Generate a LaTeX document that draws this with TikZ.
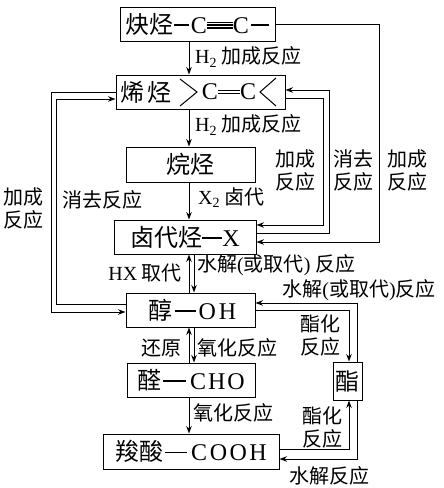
\documentclass[tikz,border=0pt]{standalone}
\usepackage{fontspec}
\setmainfont{Noto Sans CJK SC}
\newfontfamily\latf{Liberation Serif}
\usetikzlibrary{arrows.meta,calc}
\newcommand\lt[1]{{\latf #1}}
\newcommand\hb[1]{\rule[0.3em]{#1}{0.065em}}
\newcommand\tb[1]{\rlap{\rule[0.185em]{#1}{0.05em}}\rlap{\rule[0.305em]{#1}{0.05em}}\rule[0.425em]{#1}{0.05em}}
\newcommand\db[1]{\rlap{\rule[0.245em]{#1}{0.05em}}\rule[0.365em]{#1}{0.05em}}
\tikzset{
  box/.style={draw, line width=1pt, inner sep=0pt, minimum height=34pt, font=\fontsize{24}{26}\selectfont},
  txt/.style={inner sep=0pt, font=\fontsize{24}{26}\selectfont},
  lab/.style={inner sep=0pt, font=\fontsize{20}{23}\selectfont, align=center},
  arr/.style={line width=1pt, -{Stealth[length=7.5pt,width=5.5pt]}},
  ln/.style={line width=1pt}
}
\begin{document}
\begin{tikzpicture}[x=1pt,y=-1pt]
\useasboundingbox (0,0) rectangle (444,488);
% boxes
\node[box, minimum width=155pt] (yne) at (197.5,24) {炔烃\hb{15pt}\kern2pt\lt{C}\tb{26pt}\lt{C}\kern2pt\hb{18pt}};
\node[box, minimum width=169pt] (ene) at (200.5,92) {};
\node[txt] (eneT) at (146,92) {烯\hspace{3pt}烃};
\node[txt] (eneC) at (229,92) {\lt{C}\db{22pt}\lt{C}};
\draw[ln] (180,79) -- (197,92) -- (180,106);
\draw[ln] (276,78) -- (260,92) -- (276,106);
\node[box, minimum width=129pt, minimum height=35pt] (ane) at (190.5,164.5) {烷烃};
\node[box, minimum width=142pt] (hal) at (185,237) {卤代烃\hb{20pt}\lt{X}};
\node[box, minimum width=129pt] (alc) at (190.5,310) {\kern4pt醇\kern2pt\hb{21pt}\kern3pt\lt{O\kern3pt H}};
\node[box, minimum width=128pt] (ald) at (191,380) {醛\kern2pt\hb{23pt}\kern4pt\lt{C\kern2pt H\kern2pt O}};
\node[box, minimum width=176pt, minimum height=35pt] (acid) at (191,451.5) {羧酸\kern2pt\hb{22pt}\kern4pt\lt{C\kern2.5pt O\kern2.5pt O\kern2.5pt H}};
\node[box, minimum width=29pt, minimum height=38pt] (est) at (347.5,381) {酯};
% helper coordinates
\coordinate (xa) at (189,0);
\coordinate (xb) at (194,0);
\coordinate (r1) at (379,0);
\coordinate (r2) at (329,0);
\coordinate (r3) at (323,0);
\coordinate (l1) at (51,0);
\coordinate (l2) at (56,0);
\coordinate (s1) at (349,0);
\coordinate (s2) at (357,0);
\coordinate (h1) at ([yshift=12pt]hal.east);
\coordinate (h2) at ([yshift=4pt]hal.east);
\coordinate (h3) at ([yshift=-5pt]hal.east);
\coordinate (e1) at ([yshift=2pt]ene.east);
\coordinate (e2) at ([yshift=-6pt]ene.east);
\coordinate (e4) at ([yshift=-7pt]ene.west);
\coordinate (a1) at ([yshift=-2pt]alc.west);
\coordinate (a2) at ([yshift=6pt]alc.west);
\coordinate (a3) at ([yshift=7pt]alc.east);
\coordinate (c1) at ([yshift=2.5pt]acid.east);
\coordinate (c2) at ([yshift=-7.5pt]acid.east);
% vertical arrows
\draw[arr] (yne.south -| xa) -- (ene.north -| xa);
\draw[arr] (ene.south -| xa) -- (ane.north -| xa);
\draw[arr] (ane.south -| xa) -- (hal.north -| xa);
\draw[arr] (alc.north -| xa) -- (hal.south -| xa);
\draw[arr] (hal.south -| xb) -- (alc.north -| xb);
\draw[arr] (ald.north -| xa) -- (alc.south -| xa);
\draw[arr] (alc.south -| xb) -- (ald.north -| xb);
\draw[arr] (ald.south -| xa) -- (acid.north -| xa);
% right loops
\draw[arr] (yne.east) -- (yne.east -| r1) -- (r1 |- h3) -- (h3);
\draw[arr] (h2) -- (h2 -| r2) -- (r2 |- e1) -- (e1);
\draw[arr] (e2) -- (e2 -| r3) -- (r3 |- h1) -- (h1);
% left loops
\draw[arr] (ene.west) -- (ene.west -| l1) -- (l1 |- a1) -- (a1);
\draw[arr] (a2) -- (a2 -| l2) -- (l2 |- e4) -- (e4);
% ester
\draw[arr] (alc.east) -- (alc.east -| s1) -- (s1 |- est.north);
\draw[arr] (est.north -| s2) -- (s2 |- a3) -- (a3);
\draw[arr] (c1) -- (c1 -| s1) -- (s1 |- est.south);
\draw[arr] (est.south -| s2) -- (s2 |- c2) -- (c2);
% labels
\node[lab, anchor=west] (t1) at (195,57) {\lt{H\textsubscript{2}} 加成反应};
\node[lab, anchor=west] (t2) at (195,125) {\lt{H\textsubscript{2}} 加成反应};
\node[lab, anchor=west] (t3) at (198,198) {\lt{X\textsubscript{2}} 卤代};
\node[lab, anchor=east] (t4) at (182,273) {\lt{HX} 取代};
\node[lab, anchor=west] (t5) at (197,265) {水解\lt{(}或取代\lt{)} 反应};
\node[lab, anchor=east] (t6) at (182,348) {还原};
\node[lab, anchor=west] (t7) at (197,348) {氧化反应};
\node[lab, anchor=west] (t8) at (193,413) {氧化反应};
\node[lab] (t9) at (24,208) {加成\\反应};
\node[lab] (t10) at (103,200) {消去反应};
\node[lab] (t11) at (295,170) {加成\\反应};
\node[lab] (t12) at (353,170) {消去\\反应};
\node[lab] (t13) at (407,170) {加成\\反应};
\node[lab] (t14) at (359,290) {水解\lt{(}或取代\lt{)}反应};
\node[lab] (t15) at (320,335) {酯化\\反应};
\node[lab] (t16) at (322,427) {酯化\\反应};
\node[lab] (t17) at (329,476) {水解反应};
\end{tikzpicture}
\end{document}
